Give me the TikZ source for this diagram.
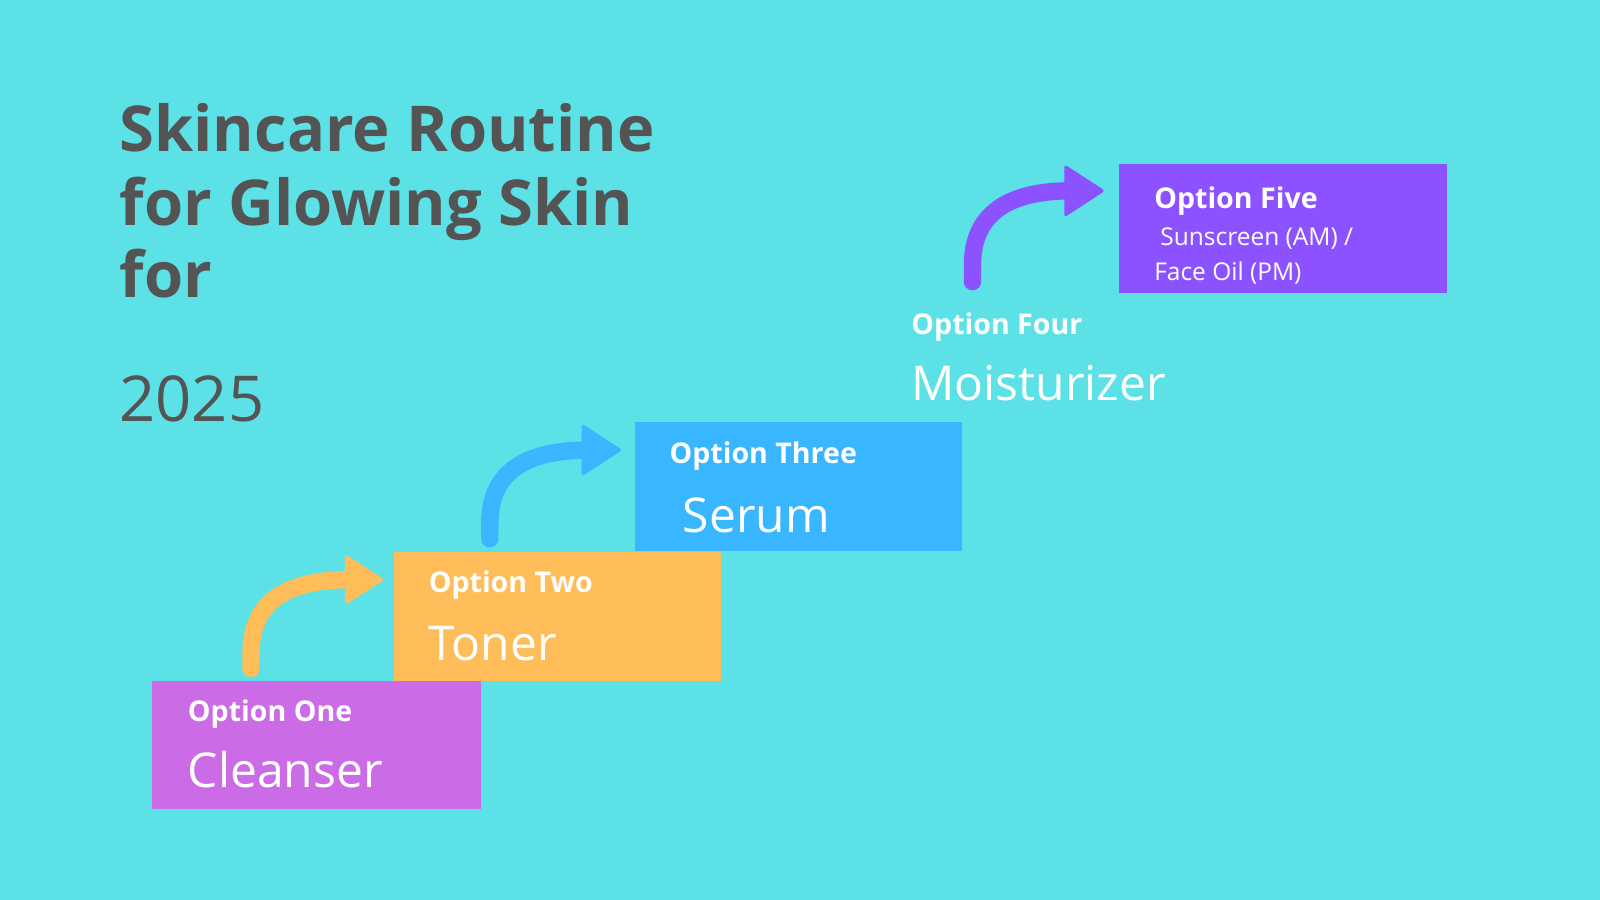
\documentclass[tikz,border=0pt]{standalone}
\usepackage{fontspec}
\setmainfont{Open Sans}
\definecolor{bg}{HTML}{5CE1E6}
\definecolor{ttl}{HTML}{545454}
\definecolor{cA}{HTML}{CB6CE6}
\definecolor{cB}{HTML}{FFBD59}
\definecolor{cC}{HTML}{38B6FF}
\definecolor{cD}{HTML}{8C52FF}
\tikzset{
 box/.style={inner sep=0},
 lbl/.style={anchor=base west,inner sep=0,text=white,font=\fontsize{28}{34}\selectfont\bfseries},
 big/.style={anchor=base west,inner sep=0,text=white,font=\fontsize{47}{56}\selectfont},
 tt/.style={anchor=base west,inner sep=0,text=ttl,font=\fontsize{62}{72}\selectfont\bfseries},
 arr/.style={line width=17pt,line cap=round},
}
\begin{document}
\begin{tikzpicture}[x=1pt,y=-1pt]
\fill[bg] (0,0) rectangle (1568,882);
\useasboundingbox (0,0) rectangle (1568,882);
% boxes
\fill[cA] (149,667) rectangle (471,793);
\fill[cB] (386,541) rectangle (707,667);
\fill[cC] (622,414) rectangle (943,540);
\fill[cD] (1097,161) rectangle (1418,287);
% title
\node[tt] (t1) at (117,148) {Skincare Routine};
\node[tt] (t2) at (117,221) {for Glowing Skin};
\node[tt] (t3) at (117,292) {for};
\node[anchor=base west,inner sep=0,text=ttl,font=\fontsize{62}{72}\selectfont] (yr) at (117,413) {2025};
% labels
\node[lbl] (o1) at (184,707) {Option One};
\node[big] (v1) at (184,772) {Cleanser};
\node[lbl] (o2) at (420,581) {Option Two};
\node[big] (v2) at (420,647) {Toner};
\node[lbl] (o3) at (656,454) {Option Three};
\node[big] (v3) at (669,522) {Serum};
\node[lbl] (o4) at (893,328) {Option Four};
\node[big] (v4) at (893,392) {Moisturizer};
\node[lbl] (o5) at (1131,204) {Option Five};
\node[anchor=base west,inner sep=0,text=white,font=\fontsize{24}{28}\selectfont] (v5a) at (1137,241) {Sunscreen (AM) /};
\node[anchor=base west,inner sep=0,text=white,font=\fontsize{24}{28}\selectfont] (v5b) at (1131,275) {Face Oil (PM)};
% arrows
\coordinate (a1s) at (246,655); \coordinate (a1e) at (345,568);
\draw[arr,cB] (a1s) -- (246,640) .. controls (246,590) and (280,568) .. (a1e);
\fill[cB,rounded corners=3pt] (338,543) -- (377,568) -- (338,593) -- cycle;
\coordinate (a2s) at (480,528); \coordinate (a2e) at (578,441);
\draw[arr,cC] (a2s) -- (480,513) .. controls (480,463) and (514,441) .. (a2e);
\fill[cC,rounded corners=3pt] (570,415) -- (610,441) -- (570,467) -- cycle;
\coordinate (a4s) at (953,276); \coordinate (a4e) at (1050,187);
\draw[arr,cD] (a4s) -- (953,260) .. controls (953,210) and (987,187) .. (a4e);
\fill[cD,rounded corners=3pt] (1043,161) -- (1083,187) -- (1043,213) -- cycle;
\end{tikzpicture}
\end{document}
